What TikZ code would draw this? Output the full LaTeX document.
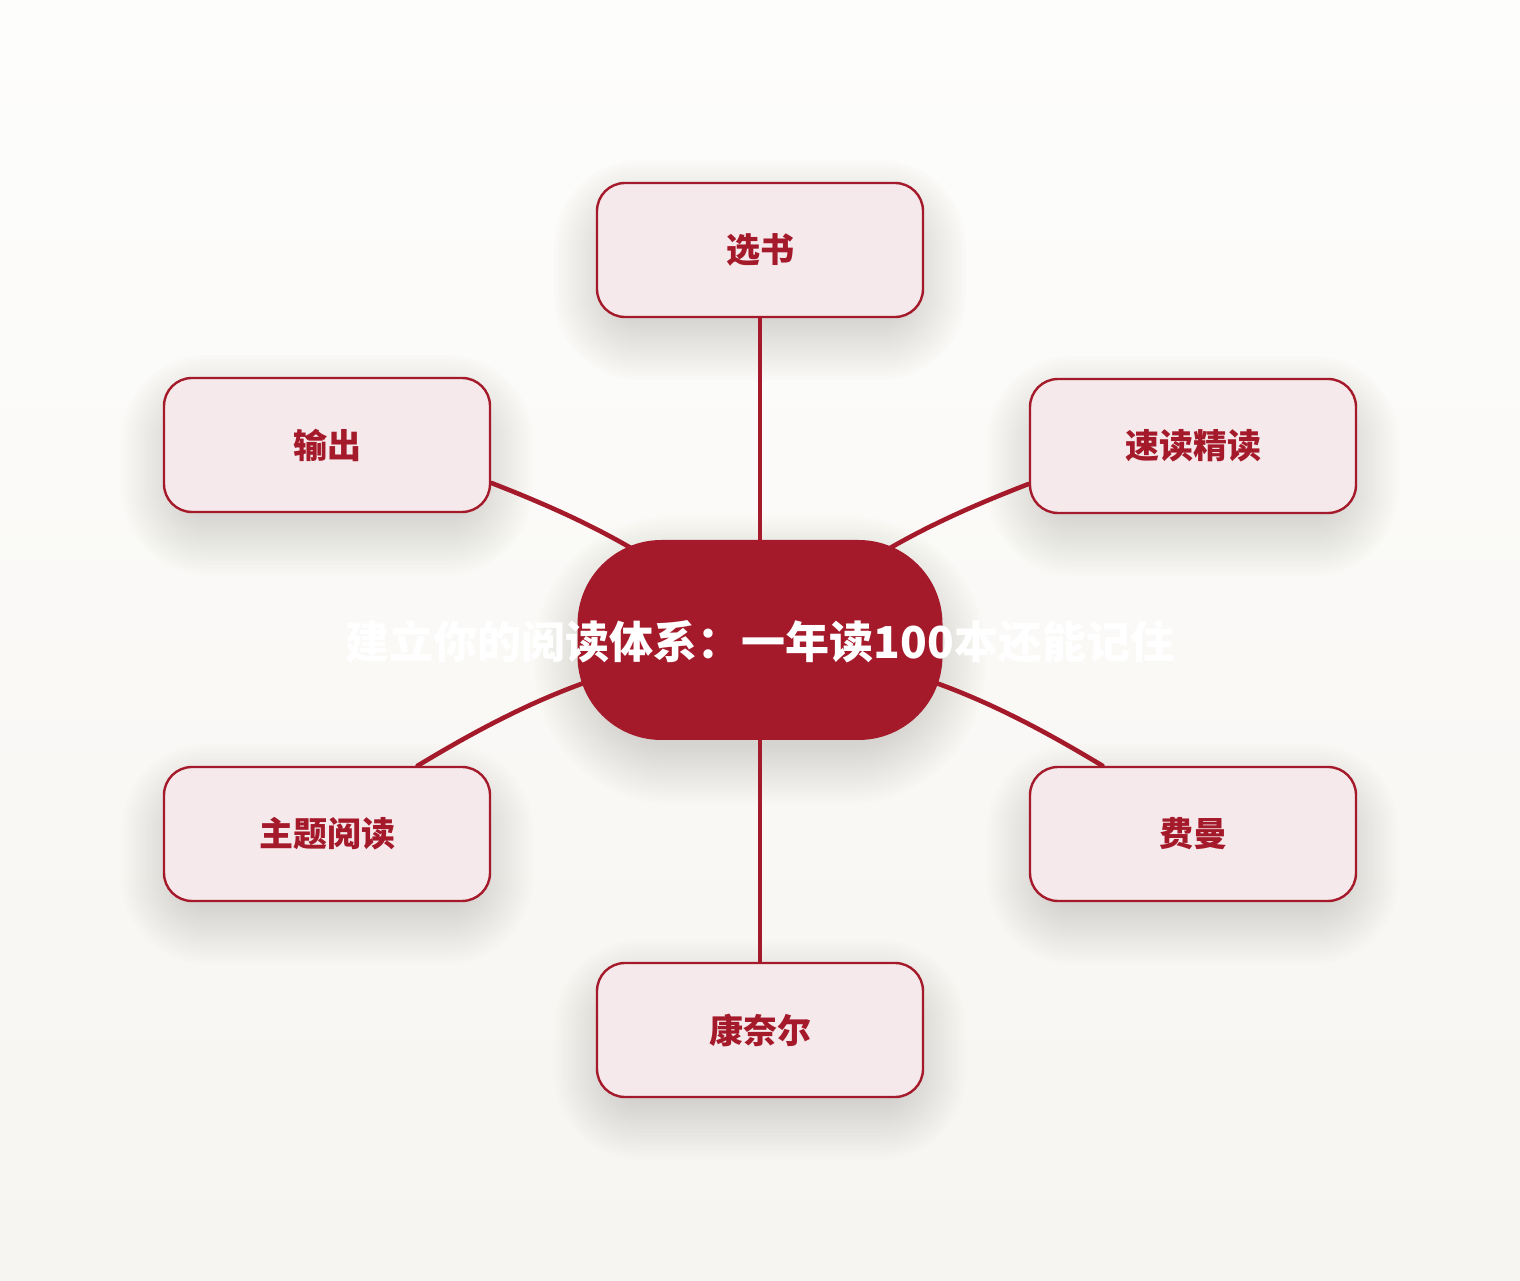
\documentclass[tikz,border=0pt]{standalone}
\usepackage{fontspec}
\setmainfont{Noto Sans CJK SC}
\definecolor{crim}{HTML}{A51A2A}
\definecolor{boxfill}{HTML}{F5E9EB}
\definecolor{bgtop}{HTML}{FDFDFC}
\definecolor{bgbot}{HTML}{F7F5F1}
\definecolor{shad}{HTML}{5A5048}
\tikzset{
  leaf/.style={draw=crim, line width=1.2pt, fill=boxfill, rounded corners=14pt,
    minimum width=163pt, minimum height=67pt, text=crim,
    font=\fontsize{17pt}{20pt}\selectfont\bfseries, inner sep=0pt},
  hub/.style={fill=crim, rounded corners=42pt, minimum width=182.5pt, minimum height=100pt, inner sep=0pt},
  hubtext/.style={text=white, font=\fontsize{22pt}{26pt}\selectfont\bfseries, inner sep=0pt},
  link/.style={draw=crim, line width=2.3pt, line cap=round}
}
% soft shadow: #1,#2 centre; #3,#4 half sizes; #5 corner radius (all in px units)
\newcommand\softshade[5]{%
  \foreach \k in {0,...,17}{%
    \pgfmathsetmacro\ex{\k*3.4}%
    \pgfmathsetmacro\rr{#5+\ex}%
    \fill[shad, opacity=0.013, rounded corners=\rr*0.5pt]
      (#1-#3-\ex,#2-20-#4-\ex) rectangle (#1+#3+\ex,#2-20+#4+\ex);
  }%
}
\begin{document}
\begin{tikzpicture}[x=0.5pt,y=0.5pt]
\useasboundingbox (0,0) rectangle (1520,1280);
\shade[top color=bgtop, bottom color=bgbot] (0,0) rectangle (1520,1280);
% shadows
\softshade{760}{1030}{148}{52}{28}
\softshade{327}{835}{148}{52}{28}
\softshade{1193}{834}{148}{52}{28}
\softshade{327}{446}{148}{52}{28}
\softshade{1193}{446}{148}{52}{28}
\softshade{760}{250}{148}{52}{28}
\softshade{760}{640}{168}{86}{80}
% leaves (y = 1280 - screen y)
\node[leaf] (b1) at (760,1030) {\raisebox{-2pt}{选书}};
\node[leaf] (b2) at (327,835) {\raisebox{-2pt}{输出}};
\node[leaf] (b3) at (1193,834) {\raisebox{-2pt}{速读精读}};
\node[leaf] (b4) at (327,446) {\raisebox{-2pt}{主题阅读}};
\node[leaf] (b5) at (1193,446) {\raisebox{-2pt}{费曼}};
\node[leaf] (b6) at (760,250) {\raisebox{-2pt}{康奈尔}};
\coordinate (cc) at (760,640);
% connectors
\draw[link] (b1.south) -- (cc);
\draw[link] (b6.north) -- (cc);
\draw[link] (b2.-13) to[bend left=9] (cc);
\draw[link] (b3.193) to[bend right=9] (cc);
\draw[link] (b4.37) to[bend left=11] (cc);
\draw[link] (b5.143) to[bend right=11] (cc);
% hub
\node[hub] (c) at (cc) {};
\node[hubtext] (t) at (760,638) {建立你的阅读体系：一年读100本还能记住};
\end{tikzpicture}
\end{document}
